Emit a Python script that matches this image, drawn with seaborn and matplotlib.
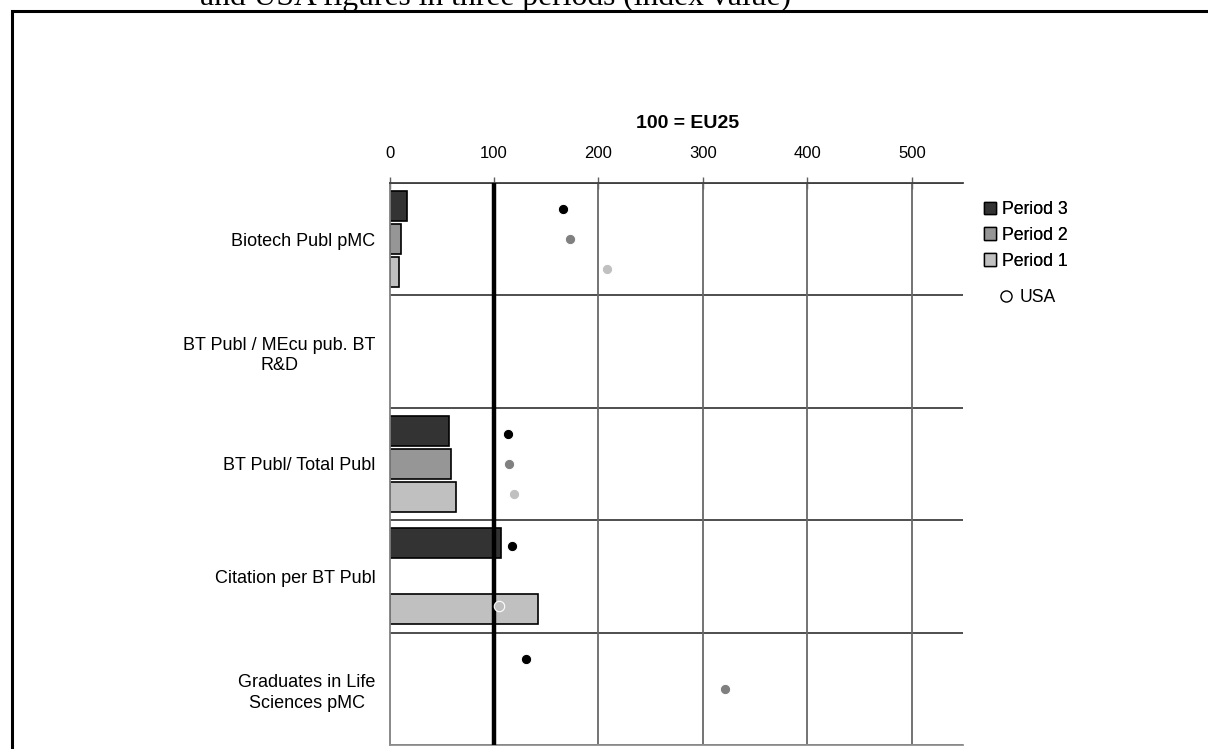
import numpy as np
import pandas as pd
import matplotlib
matplotlib.use("Agg")
import matplotlib.pyplot as plt
from matplotlib.patches import Patch, Rectangle
from matplotlib.lines import Line2D
import seaborn as sns

# data (index, 100 = EU25)
categories = ["Biotech Publ pMC", "BT Publ / MEcu pub. BT\nR&D", "BT Publ/ Total Publ",
              "Citation per BT Publ", "Graduates in Life\nSciences pMC"]
periods = ["Period 3", "Period 2", "Period 1"]
period3 = [16.5, np.nan, 57, 107, np.nan]
period2 = [11.3, np.nan, 58.6, np.nan, np.nan]
period1 = [9.1, np.nan, 63.3, 141.8, np.nan]
usa3 = [165.7, np.nan, 113.4, 117.2, 130.6]
usa2 = [172.4, np.nan, 114.6, np.nan, 321]
usa1 = [207.8, np.nan, 118.9, 104.8, np.nan]
xticks = [0, 100, 200, 300, 400, 500]

bar_colors = ["#333333", "#969696", "#c0c0c0"]
dot_colors = ["#000000", "#808080", "#c0c0c0"]

bars = pd.DataFrame({
    "category": categories * 3,
    "period": np.repeat(periods, len(categories)),
    "value": period3 + period2 + period1,
}).dropna()
dots = pd.DataFrame({
    "category": categories * 3,
    "period": np.repeat(periods, len(categories)),
    "value": usa3 + usa2 + usa1,
}).dropna()

sns.set_style("white")
plt.rcParams["font.family"] = ["Liberation Sans", "DejaVu Sans"]
plt.rcParams["text.color"] = "black"
plt.rcParams["xtick.labelcolor"] = "black"
plt.rcParams["ytick.labelcolor"] = "black"

fig = plt.figure(figsize=(12.08, 7.49), dpi=100)
ax = fig.add_axes([389.5 / 1208, 4 / 749, 573.5 / 1208, 562 / 749])

sns.barplot(data=bars, x="value", y="category", hue="period", order=categories,
            hue_order=periods, palette=bar_colors, orient="h", width=0.88, gap=0.09,
            edgecolor="black", linewidth=1.2, errorbar=None, legend=False, ax=ax,
            zorder=2)
sns.stripplot(data=dots, x="value", y="category", hue="period", order=categories,
              hue_order=periods, palette=dot_colors, orient="h", dodge=True, jitter=False,
              size=7.5, edgecolor="white", linewidth=0.8, legend=False, ax=ax, zorder=5)

ax.axvline(100, color="black", lw=3.2, zorder=4)
ax.set_xlim(0, 549)
ax.set_ylim(len(categories) - 0.5, -0.5)
ax.set_xlabel("")
ax.set_ylabel("")

# x axis on top
ax.xaxis.tick_top()
ax.set_xticks(xticks)
ax.tick_params(axis="x", which="major", direction="inout", length=8, width=1,
               color="#606060", labelsize=12, pad=12, labelcolor="black")
for v in xticks[2:]:
    ax.axvline(v, color="#686868", lw=1.3, zorder=1)

# category separators
ax.set_yticks(np.arange(len(categories)))
ax.set_yticks(np.arange(len(categories) + 1) - 0.5, minor=True)
ax.tick_params(axis="y", which="major", length=0, labelsize=13, pad=10, labelcolor="black")
ax.tick_params(axis="y", which="minor", direction="out", length=6, width=1.3,
               color="#404040")
ax.grid(axis="y", which="minor", color="#404040", lw=1.3, zorder=1)
for lab in ax.get_yticklabels():
    lab.set_multialignment("center")
    lab.set_linespacing(1.3)

ax.spines["right"].set_visible(False)
ax.spines["left"].set_color("#808080")
ax.spines["left"].set_linewidth(1.3)
ax.spines["top"].set_color("#404040")
ax.spines["top"].set_linewidth(1.3)
ax.spines["bottom"].set_color("#909090")
ax.spines["bottom"].set_linewidth(1.3)

fig.text(688 / 1208, 1 - 123 / 749, "100 = EU25", ha="center", va="center",
         fontsize=14, fontweight="bold")

# legends
handles = [Patch(facecolor=c, edgecolor="black", lw=1) for c in bar_colors]
leg = fig.legend(handles, periods, loc="upper left", bbox_to_anchor=(984 / 1208, 1 - 201 / 749),
                 frameon=False, fontsize=12.7, handlelength=0.7, handleheight=0.7,
                 handletextpad=0.3, labelspacing=0.5, borderaxespad=0, borderpad=0)
usa_handle = Line2D([], [], marker="o", ls="none", markerfacecolor="white",
                    markeredgecolor="black", markersize=8, markeredgewidth=1)
leg2 = fig.legend([usa_handle], ["USA"], loc="upper left", bbox_to_anchor=(999 / 1208, 1 - 289 / 749),
                  frameon=False, fontsize=12.7, handlelength=0.8, handletextpad=0.35,
                  borderaxespad=0, borderpad=0)
fig.add_artist(leg)

# page fragment around the chart
fig.add_artist(Rectangle((12 / 1208, -0.05), 1.2, 1 - 11 / 749 + 0.05, transform=fig.transFigure,
                         fill=False, edgecolor="black", lw=2.2))
fig.text(200 / 1208, 1 - 5 / 749, "and USA figures in three periods (index value)",
         family=["Liberation Serif", "DejaVu Serif"], fontsize=22.8, va="baseline")

fig.savefig("out.png", dpi=100)
